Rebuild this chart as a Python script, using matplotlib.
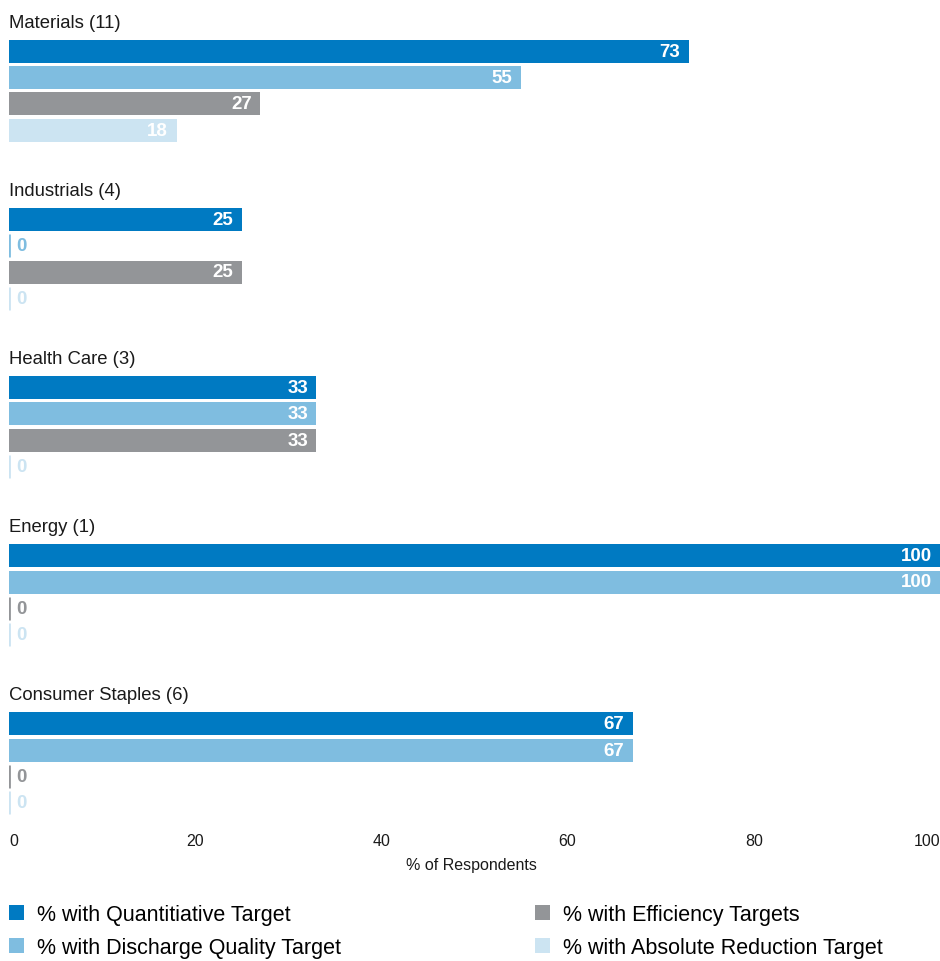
import matplotlib
matplotlib.use("Agg")
import matplotlib.pyplot as plt
from matplotlib.patches import Patch

plt.rcParams['font.family'] = ['Liberation Sans', 'DejaVu Sans']

# data
groups = ["Materials (11)", "Industrials (4)", "Health Care (3)",
          "Energy (1)", "Consumer Staples (6)"]
series_names = ["% with Quantitiative Target", "% with Discharge Quality Target",
                "% with Efficiency Targets", "% with Absolute Reduction Target"]
quantitative = [73, 25, 33, 100, 67]
discharge = [55, 0, 33, 100, 67]
efficiency = [27, 25, 33, 0, 0]
absolute = [18, 0, 0, 0, 0]
xticks = [0, 20, 40, 60, 80, 100]

series = [quantitative, discharge, efficiency, absolute]
colors = ["#007AC2", "#7FBDE0", "#939598", "#CCE4F2"]

# layout in pixels (y axis runs top-down in pixel units)
W, H = 940, 962
GROUP_PITCH = 168.1
TITLE_Y = 23.5
FIRST_BAR_Y = 52.5
BAR_PITCH = 26.2
BAR_H = 23
AX_BOTTOM = 820

fig = plt.figure(figsize=(W / 100, H / 100), dpi=100)
ax = fig.add_axes([9 / W, (H - AX_BOTTOM) / H, 931 / W, AX_BOTTOM / H])
ax.set_xlim(0, 100)
ax.set_ylim(AX_BOTTOM, 0)

for g, name in enumerate(groups):
    ax.text(0, TITLE_Y + g * GROUP_PITCH, name, fontsize=13.3, va='center',
            ha='left', color='#1a1a1a')
    for s, vals in enumerate(series):
        v = vals[g]
        y = FIRST_BAR_Y + g * GROUP_PITCH + s * BAR_PITCH
        if v > 0:
            ax.barh(y, v, height=BAR_H, color=colors[s], linewidth=0)
            ax.annotate(str(v), (v, y), xytext=(-6, 0), textcoords='offset points',
                        ha='right', va='center', color='white',
                        fontsize=13.5, fontweight='bold')
        else:
            # zero values: thin stub at the baseline plus a coloured label
            ax.vlines(0, y - BAR_H / 2, y + BAR_H / 2, color=colors[s], linewidth=2)
            ax.annotate(str(v), (v, y), xytext=(5, 0), textcoords='offset points',
                        ha='left', va='center', color=colors[s],
                        fontsize=13.5, fontweight='bold')

for sp in ax.spines.values():
    sp.set_visible(False)
ax.set_yticks([])
ax.set_xticks(xticks)
ax.set_xticklabels([str(t) for t in xticks], fontsize=11.5, color='#1a1a1a')
ax.tick_params(axis='x', length=0, pad=10)
labels = ax.get_xticklabels()
labels[0].set_ha('left')
labels[-1].set_ha('right')

fig.text(471 / W, 1 - 866 / H, "% of Respondents", ha='center', va='center',
         fontsize=11.5, color='#1a1a1a')

handles = [Patch(facecolor=c, edgecolor='none') for c in colors]
fig.legend(handles, series_names, loc='upper left', ncol=2,
           bbox_to_anchor=(9 / W, 1 - 905 / H), frameon=False,
           fontsize=15.5, handlelength=0.7, handleheight=0.7,
           handletextpad=0.6, labelspacing=0.55, columnspacing=9.0,
           borderpad=0, borderaxespad=0)

fig.savefig("out.png", dpi=100)
